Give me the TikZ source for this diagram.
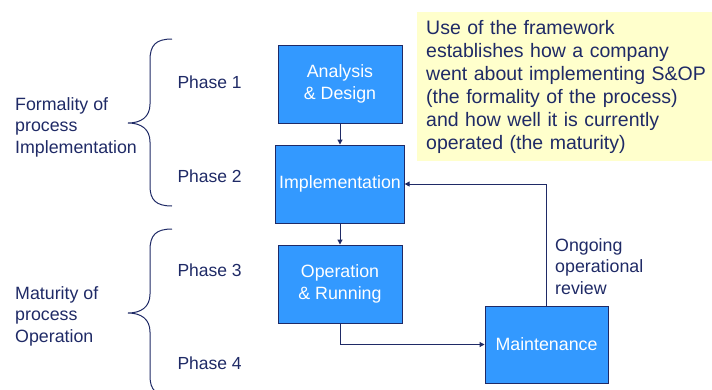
\documentclass[tikz,border=0pt]{standalone}
\usepackage{fontspec}
\setmainfont{Liberation Sans}
\usepackage{tikz}
\usetikzlibrary{positioning,arrows.meta}
\definecolor{boxblue}{HTML}{3399FF}
\definecolor{navy}{HTML}{1F2A66}
\definecolor{notefill}{HTML}{FFFFCC}
\tikzset{
  stage/.style={draw=navy,line width=0.9pt,fill=boxblue,text=white,
               minimum width=124pt,minimum height=78pt,align=center,
               font=\fontsize{17.8}{21.5}\selectfont},
  phase/.style={anchor=west,text=navy,font=\fontsize{17.5}{21.5}\selectfont},
  group/.style={anchor=west,align=left,text=navy,inner sep=0pt,
               font=\fontsize{17.8}{21.5}\selectfont},
  note/.style={fill=notefill,text=navy,align=left,anchor=north west,
              text width=286pt,minimum height=148pt,inner xsep=9pt,inner ysep=8pt,
              font=\fontsize{19.5}{23}\selectfont},
  flow/.style={-{Triangle[length=5pt,width=5pt]},line width=1pt,navy},
  curly/.style={line width=1pt,navy},
}

\begin{document}
\begin{tikzpicture}[x=1pt,y=-1pt]
  \useasboundingbox (0,0) rectangle (712,389);
  % the four stages
  \node[stage] (ad) at (340,84) {Analysis\\\& Design};
  \node[stage] (impl) at (340,184) {Implementation};
  \node[stage] (op) at (340,284) {Operation\\\& Running};
  \node[stage,minimum width=123pt,minimum height=77pt] (maint) at (546.5,344.5) {Maintenance};
  % note in the corner
  \node[note] (info) at (417,12) {Use of the framework\\establishes how a company\\went about implementing S\&OP\\(the formality of the process)\\and how well it is currently\\operated (the maturity)};
  % phases and their groups
  \node[phase] (ph1) at (174,82) {Phase 1};
  \node[phase] (ph2) at (174,176) {Phase 2};
  \node[phase] (ph3) at (174,270) {Phase 3};
  \node[phase] (ph4) at (174,363) {Phase 4};
  \node[group] (formal) at (15,127) {Formality of\\process\\Implementation};
  \node[group] (mature) at (15,316) {Maturity of\\process\\Operation};
  \node[anchor=north west,align=left,text=navy,inner sep=0pt,
        font=\fontsize{17.8}{21.5}\selectfont] (review) at (555,238) {Ongoing\\operational\\review};
  % braces
  \draw[curly] (172,39) .. controls (156,39) and (150,45) .. (150,60) -- (150,104)
    .. controls (150,117) and (141,123) .. (128,123)
    .. controls (141,123) and (150,129) .. (150,142) -- (150,186)
    .. controls (150,200) and (156,206) .. (172,206);
  \draw[curly] (172,229) .. controls (156,229) and (150,235) .. (150,250) -- (150,294)
    .. controls (150,307) and (141,313) .. (128,313)
    .. controls (141,313) and (150,319) .. (150,332) -- (150,376)
    .. controls (150,390) and (156,396) .. (172,396);
  % connectors
  \draw[flow] (ad) -- (impl);
  \draw[flow] (impl) -- (op);
  \draw[flow] (op.south) |- (maint.west);
  \draw[flow] (maint.north) |- (impl.east);
\end{tikzpicture}
\end{document}
